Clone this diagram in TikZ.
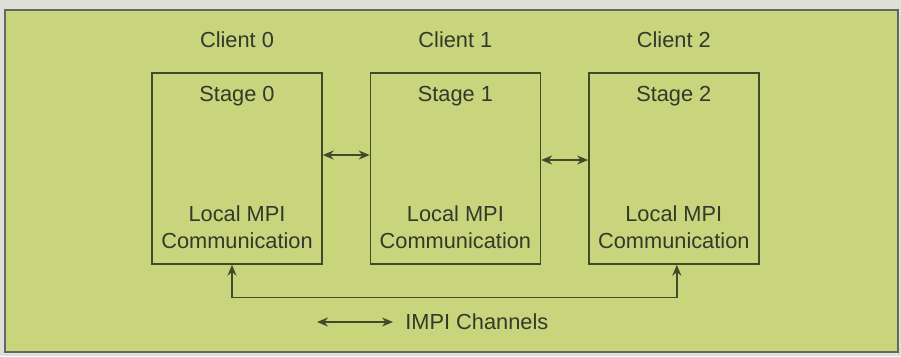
\documentclass[tikz,border=0pt]{standalone}
\usepackage{fontspec}
\setmainfont{Liberation Sans}
\usepackage{xcolor}
\usetikzlibrary{arrows.meta,positioning}

\definecolor{panelgreen}{HTML}{C8D57C}
\definecolor{pagegray}{HTML}{DEDFD6}
\definecolor{inkline}{HTML}{434A2C}
\definecolor{inktext}{HTML}{35382A}

\begin{document}
\begin{tikzpicture}[
    node distance=0.94cm,
    font=\fontsize{12.4}{15.4}\selectfont,
    text=inktext,
    stagebox/.style={draw=inkline, line width=0.8pt, minimum width=3.4cm, minimum height=3.82cm, inner sep=0pt},
    lbl/.style={align=center, inner sep=0pt},
    arrow/.style={{Stealth[length=2.2mm,width=1.8mm]}-{Stealth[length=2.2mm,width=1.8mm]}, draw=inkline, line width=0.8pt}
]
\useasboundingbox (0,0) rectangle (18.02,-7.12);
\fill[pagegray] (0,0) rectangle (18.02,-7.12);
\filldraw[fill=panelgreen, draw=black!60, line width=0.9pt] (0.1,-0.2) rectangle (17.96,-7.04);
\node[stagebox] (s0) at (4.74,-3.37) {};
\node[stagebox, right=of s0] (s1) {};
\node[stagebox, right=of s1] (s2) {};
\foreach \i in {0,1,2} {
  \node[lbl] (client\i) at ([yshift=0.66cm]s\i.north) {Client \i};
  \node[lbl, anchor=base] (stage\i) at ([yshift=-0.58cm]s\i.north) {Stage \i};
  \node[lbl] (local\i) at ([yshift=0.75cm]s\i.south) {Local MPI\\Communication};
}
\draw[arrow] ([yshift=0.27cm]s0.east) -- ([yshift=0.27cm]s1.west);
\draw[arrow] ([yshift=0.17cm]s1.east) -- ([yshift=0.17cm]s2.west);
\draw[arrow] ([xshift=-0.1cm]s0.south) -- ++(0,-0.66) -| ([xshift=0.06cm]s2.south);
% legend
\coordinate (legA) at (6.34,-6.44);
\coordinate (legB) at (7.86,-6.44);
\draw[arrow] (legA) -- (legB);
\node[lbl, right=0.24cm of legB] (legend) {IMPI Channels};
\end{tikzpicture}
\end{document}
